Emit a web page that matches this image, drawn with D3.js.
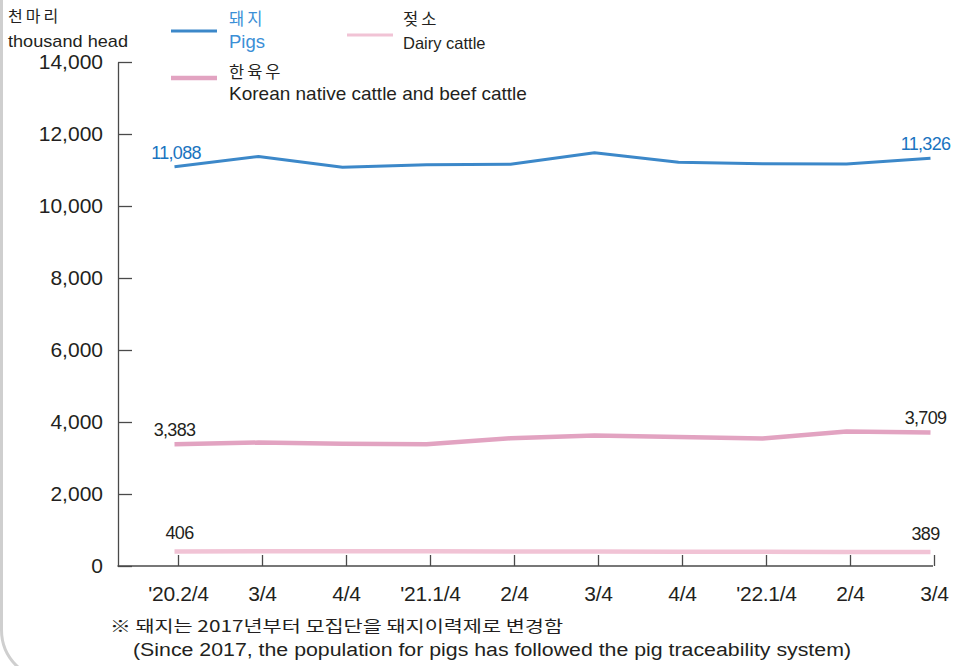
<!DOCTYPE html>
<html>
<head>
<meta charset="utf-8">
<script src="https://cdn.jsdelivr.net/npm/d3@7"></script>
<style>
  html, body { margin: 0; padding: 0; background: #fff; }
  svg { display: block; }
  text { font-family: "Liberation Sans", Arial, "Noto Sans CJK KR", sans-serif; fill: #231f20; }
  .kr { font-family: "Noto Sans CJK KR", "Liberation Sans", sans-serif; }
</style>
</head>
<body>
<svg id="chart" width="957" height="666"></svg>
<script>
// ---- data ----
const categories = ["'20.2/4", "3/4", "4/4", "'21.1/4", "2/4", "3/4 ", "4/4 ", "'22.1/4", "2/4 ", "3/4  "];
const pigs   = [11088, 11378, 11078, 11146, 11159, 11481, 11217, 11174, 11169, 11326];
const hanwoo = [3383, 3429, 3395, 3379, 3548, 3622, 3580, 3544, 3735, 3709];
const dairy  = [406, 410, 410, 407, 402, 400, 399, 394, 391, 389];
const yTicks = [0, 2000, 4000, 6000, 8000, 10000, 12000, 14000];

const series = [
  { key: "dairy",  values: dairy,  color: "#f1c3d5", width: 4.5, labelColor: "#231f20", labelOff: 12, dx0: 5 },
  { key: "hanwoo", values: hanwoo, color: "#e2a3c1", width: 4.5, labelColor: "#231f20", labelOff: 8, dx0: 0 },
  { key: "pigs",   values: pigs,   color: "#3c88c9", width: 3,   labelColor: "#1a74c0", labelOff: 8, dx0: 1.5 }
];

const svg = d3.select("#chart");

// rounded page border (bottom-left corner visible)
svg.append("rect")
  .attr("x", 1.5).attr("y", -200).attr("width", 1100).attr("height", 880)
  .attr("rx", 50).attr("ry", 50)
  .attr("fill", "none").attr("stroke", "#cfcfcf").attr("stroke-width", 3);

const x = d3.scalePoint().domain(categories).range([174.5, 930.5]);
const y = d3.scaleLinear().domain([0, 14000]).range([566, 62]);
const fmt = d3.format(",");

// y axis
const yAxis = d3.axisLeft(y).tickValues(yTicks).tickFormat(fmt)
  .tickSize(-14).tickSizeOuter(0).tickPadding(15);
const gy = svg.append("g").attr("transform", "translate(118,0)").call(yAxis);
gy.select(".domain").attr("stroke", "#4a4a4a").attr("stroke-width", 1.3);
gy.selectAll(".tick line").attr("stroke", "#4a4a4a").attr("stroke-width", 1.3);
gy.selectAll(".tick text").attr("font-size", 21).attr("fill", "#231f20")
  .attr("font-family", "Liberation Sans, Arial, sans-serif");

// x axis
svg.append("line").attr("x1", 117.5).attr("x2", 933).attr("y1", 566).attr("y2", 566)
  .attr("stroke", "#4a4a4a").attr("stroke-width", 1.3);
const xAxis = d3.axisBottom(x).tickSize(-11).tickSizeOuter(0).tickPadding(20)
  .tickFormat(d => d.trim());
const gx = svg.append("g").attr("transform", "translate(3.5,566)").call(xAxis);
gx.select(".domain").remove();
gx.selectAll(".tick line").attr("stroke", "#4a4a4a").attr("stroke-width", 1.3);
gx.selectAll(".tick text").attr("font-size", 21).attr("fill", "#231f20")
  .attr("font-family", "Liberation Sans, Arial, sans-serif")
  .attr("letter-spacing", "-0.3px");

// lines
const line = d3.line().x((d, i) => x(categories[i])).y(d => y(d));
series.forEach(s => {
  svg.append("path").datum(s.values)
    .attr("d", line)
    .attr("fill", "none")
    .attr("stroke", s.color)
    .attr("stroke-width", s.width)
    .attr("stroke-linejoin", "round");
  // end labels
  const n = s.values.length;
  [[0, s.dx0], [n - 1, -5]].forEach(([i, dx]) => {
    svg.append("text")
      .attr("x", x(categories[i]) + dx)
      .attr("y", y(s.values[i]) - s.labelOff)
      .attr("text-anchor", "middle")
      .attr("font-size", 18)
      .attr("letter-spacing", "-0.7px")
      .style("fill", s.labelColor)
      .text(fmt(s.values[i]));
  });
});

// unit label
svg.append("text").attr("class", "kr").attr("x", 8).attr("y", 22)
  .attr("font-size", 16).attr("letter-spacing", "3px").text("천마리");
svg.append("text").attr("x", 8).attr("y", 47).attr("font-size", 17)
  .attr("textLength", 120).attr("lengthAdjust", "spacingAndGlyphs").text("thousand  head");

// legend
const legend = [
  { kr: "돼지", en: "Pigs", color: "#3c88c9", w: 3, lx: 171, ly: 31, tx: 229, krY: 25, enY: 48, textColor: "#3b8fd6", enSize: 18.5 },
  { kr: "젖소", en: "Dairy cattle", color: "#f1c3d5", w: 3, lx: 347, ly: 35, tx: 403, krY: 25, enY: 49, textColor: "#231f20", enSize: 16.5 },
  { kr: "한육우", en: "Korean native cattle and beef cattle", color: "#e2a3c1", w: 4.5, lx: 171, ly: 78, tx: 229, krY: 78, enY: 100, textColor: "#231f20", enSize: 19 }
];
legend.forEach(l => {
  svg.append("text").attr("class", "kr").attr("x", l.tx).attr("y", l.krY)
    .attr("font-size", 16.5).attr("letter-spacing", "3px").style("fill", l.textColor).text(l.kr);
  svg.append("line").attr("x1", l.lx).attr("x2", l.lx + 46).attr("y1", l.ly).attr("y2", l.ly)
    .attr("stroke", l.color).attr("stroke-width", l.w);
  svg.append("text").attr("x", l.tx).attr("y", l.enY)
    .attr("font-size", l.enSize).style("fill", l.textColor).text(l.en);
});

// footnote
svg.append("text").attr("class", "kr").attr("x", 110).attr("y", 632).attr("font-size", 15.5)
  .attr("textLength", 453).attr("lengthAdjust", "spacingAndGlyphs")
  .text("※ 돼지는 2017년부터 모집단을 돼지이력제로 변경함");
svg.append("text").attr("x", 133).attr("y", 656).attr("font-size", 18)
  .attr("textLength", 718).attr("lengthAdjust", "spacingAndGlyphs")
  .text("(Since 2017, the population for pigs has followed the pig traceability system)");
</script>
</body>
</html>
